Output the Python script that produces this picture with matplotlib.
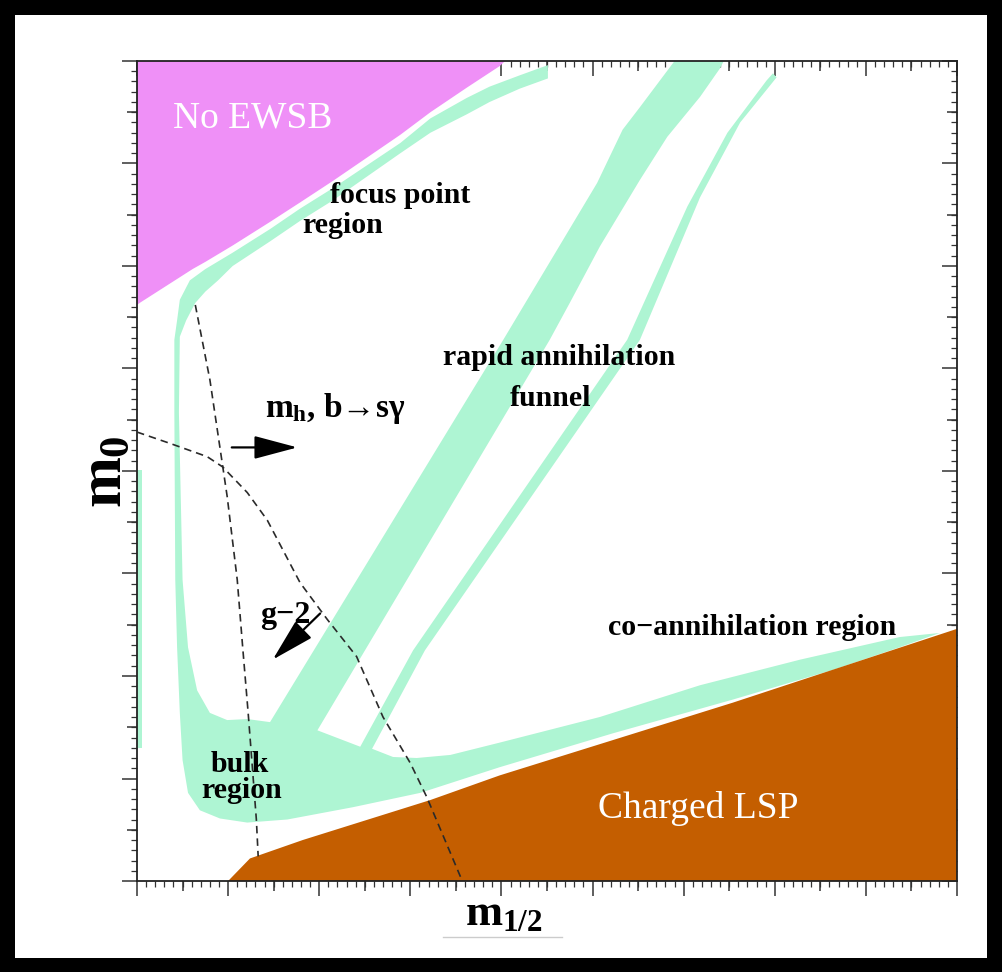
import matplotlib
matplotlib.use("Agg")
import matplotlib.pyplot as plt
from matplotlib.patches import Rectangle
from matplotlib.lines import Line2D
from matplotlib.ticker import MultipleLocator, FixedLocator, NullFormatter

plt.rcParams["font.family"] = ["Liberation Serif", "DejaVu Serif"]
plt.rcParams["mathtext.fontset"] = "custom"
plt.rcParams["mathtext.rm"] = "Liberation Serif:bold"
plt.rcParams["mathtext.it"] = "Liberation Serif:bold"
plt.rcParams["mathtext.bf"] = "Liberation Serif:bold"

# %% region boundaries in the (m_1/2, m_0) plane, arbitrary GeV-like units
ewsb_x = [0, 404, 398, 362, 322, 289, 215, 179, 146, 105, 75, 61, 3, 0]
ewsb_y = [800, 800, 795, 774, 750, 728, 683, 662, 643, 620, 604, 597, 564, 562]

# allowed relic density band, traced in pieces around its outline
focus_top_x = [451, 420, 387, 362, 322, 289, 215, 179, 146, 105, 75, 58, 47, 44, 41, 41, 42, 44, 47]
focus_top_y = [796, 786, 775, 764, 744, 720, 676, 656, 636, 613, 597, 586, 567, 547, 528, 457, 294, 228, 164]
bulk_low_x = [50, 56, 69, 91, 121, 165, 237, 311, 398]
bulk_low_y = [118, 86, 69, 61, 57, 60, 72, 86, 111]
coann_low_x = [522, 654, 764, 837, 881]
coann_low_y = [144, 177, 206, 228, 242]
coann_top_x = [837, 728, 618, 508, 398, 344, 307, 281, 258]
coann_top_y = [238, 216, 191, 160, 135, 123, 120, 121, 129]
narrow_right_x = [316, 552, 618, 662, 702, 698, 691]
narrow_right_y = [225, 528, 667, 740, 784, 788, 781]
narrow_left_x = [648, 604, 538, 303, 245]
narrow_left_y = [730, 658, 528, 225, 131]
funnel_right_x = [198, 453, 475, 508, 552, 582, 618, 640, 644]
funnel_right_y = [147, 528, 564, 619, 684, 726, 765, 793, 800]
funnel_left_x = [590, 552, 533, 505, 402, 146]
funnel_left_y = [800, 755, 733, 681, 528, 155]
bulk_in_x = [121, 99, 80, 66, 56, 50, 46]
bulk_in_y = [158, 157, 164, 186, 228, 294, 457]
focus_in_x = [47, 54, 64, 75, 89, 105, 146, 179, 215, 289, 322, 362, 387, 420, 451]
focus_in_y = [531, 547, 564, 575, 586, 600, 624, 644, 664, 710, 730, 748, 760, 773, 783]

edge_x = [0, 6, 6, 0]
edge_y = [130, 130, 401, 401]

lsp_x = [100, 124, 182, 322, 398, 654, 900, 900]
lsp_y = [0, 22, 40, 79, 103, 174, 246, 0]

# dashed constraint curves
bsg_x = [64, 80, 93, 99, 110, 116, 122, 126, 131, 133]
bsg_y = [562, 489, 411, 375, 294, 228, 164, 118, 60, 24]
gm2_x = [0, 36, 77, 94, 121, 143, 179, 209, 241, 270, 300, 318, 357]
gm2_y = [438, 427, 414, 404, 379, 352, 291, 255, 219, 160, 115, 82, 0]

green = "#aef5d3"
pink = "#ef90f7"
brown = "#c45e00"

# %% figure
fig = plt.figure(figsize=(10.02, 9.72), dpi=100)
ax = fig.add_axes([137 / 1002, 91 / 972, 820 / 1002, 820 / 972])
ax.set_xlim(0, 900)
ax.set_ylim(0, 800)

band_x = (focus_top_x + bulk_low_x + coann_low_x + coann_top_x + narrow_right_x
          + narrow_left_x + funnel_right_x + funnel_left_x + bulk_in_x + focus_in_x)
band_y = (focus_top_y + bulk_low_y + coann_low_y + coann_top_y + narrow_right_y
          + narrow_left_y + funnel_right_y + funnel_left_y + bulk_in_y + focus_in_y)

ax.fill(ewsb_x, ewsb_y, color=pink, lw=0, zorder=1)
ax.fill(band_x, band_y, color=green, lw=0, zorder=1)
ax.fill(edge_x, edge_y, color=green, lw=0, zorder=1)
ax.fill(lsp_x, lsp_y, color=brown, lw=0, zorder=2)

ax.plot(bsg_x, bsg_y, color="#2a2a2a", lw=1.2, ls=(0, (4.5, 3)), zorder=3)
ax.plot(gm2_x, gm2_y, color="#2a2a2a", lw=1.2, ls=(0, (4.5, 3)), zorder=3)

arrow = dict(arrowstyle="-|>,head_length=1.35,head_width=0.36", mutation_scale=20,
             lw=1.6, color="black", shrinkA=0, shrinkB=0)
ax.annotate("", xy=(176, 423), xytext=(104, 423), arrowprops=arrow, zorder=4)
ax.annotate("", xy=(149, 216), xytext=(201, 261), arrowprops=arrow, zorder=4)

# labels
ax.text(40, 735, "No EWSB", color="white", fontsize=27)
ax.text(506, 61, "Charged LSP", color="white", fontsize=27, zorder=5)
bold = dict(fontsize=21.5, fontweight="bold", zorder=5)
ax.text(212, 661, "focus point", **bold)
ax.text(181, 632, "region", **bold)
ax.text(336, 503, "rapid annihilation", **bold)
ax.text(409, 463, "funnel", **bold)
ax.text(517, 240, "co\u2212annihilation region", **bold)
ax.text(81, 106, "bulk", **bold)
ax.text(71, 81, "region", **bold)
ax.text(140, 453, "$m_h$, b\u2192s\u03b3", fontsize=24, fontweight="bold", zorder=5)
ax.text(135, 252, "g\u22122", fontsize=23, fontweight="bold", zorder=5)

# axis frame and ticks: out on bottom/left, in on top/right
ax.set_xticks([])
ax.set_yticks([])
for s in ax.spines.values():
    s.set_linewidth(1.3)
    s.set_color("#222222")


def side_ticks(loc, direction):
    for step, length in [(100, 11), (50, 7)]:
        if loc in ("top", "bottom"):
            sec = ax.secondary_xaxis(loc)
            a = sec.xaxis
            lim = 900
        else:
            sec = ax.secondary_yaxis(loc)
            a = sec.yaxis
            lim = 800
        if step == 100:
            a.set_major_locator(MultipleLocator(100))
            a.set_minor_locator(MultipleLocator(10))
        else:
            a.set_major_locator(FixedLocator(list(range(50, lim, 100))))
        a.set_major_formatter(NullFormatter())
        a.set_minor_formatter(NullFormatter())
        sec.tick_params(which="major", direction=direction, length=length, width=1.1, color="#333333")
        sec.tick_params(which="minor", direction=direction, length=4.5, width=0.9, color="#333333")
        for s in sec.spines.values():
            s.set_visible(False)


side_ticks("bottom", "out")
side_ticks("left", "out")
side_ticks("top", "in")
side_ticks("right", "in")

# axis titles
fig.text(106 / 1002, 1 - 472 / 972, r"$m_0$", rotation=90, fontsize=44, ha="center", va="center")
fig.text(465 / 1002, 1 - 925 / 972, r"$m_{1/2}$", fontsize=32, ha="left", va="baseline")
fig.add_artist(Line2D([443 / 1002, 562 / 1002], [1 - 937 / 972] * 2, color="#cccccc", lw=1))

# dark frame of the screenshot
frame = [(0, 0, 15 / 1002, 1), (0, 1 - 15 / 972, 1, 15 / 972),
         (1 - 15 / 1002, 0, 15 / 1002, 1), (0, 0, 1, 14 / 972)]
for x0, y0, w, h in frame:
    fig.add_artist(Rectangle((x0, y0), w, h, transform=fig.transFigure, color="black", lw=0))

fig.savefig("out.png", dpi=100)
